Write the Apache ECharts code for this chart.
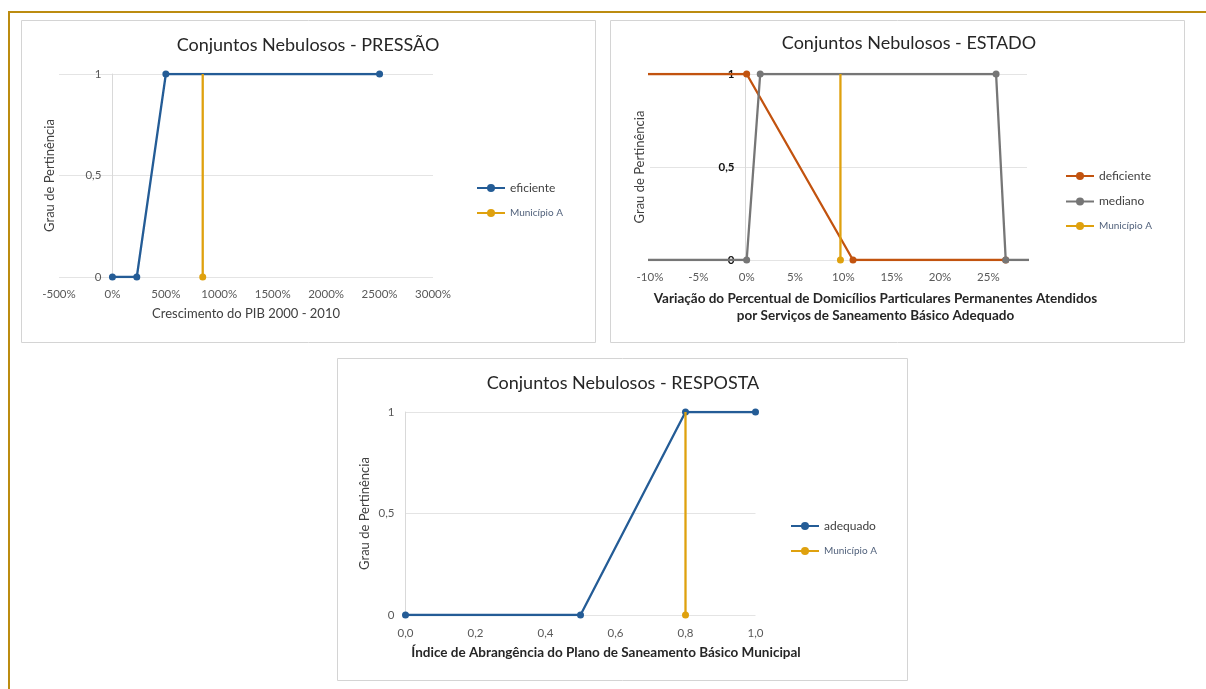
<!DOCTYPE html>
<html>
<head>
<meta charset="utf-8">
<script src="https://cdn.jsdelivr.net/npm/echarts@6/dist/echarts.min.js"></script>
<style>
  html, body { margin: 0; padding: 0; background: #ffffff; }
  #chart { width: 1206px; height: 689px; }
</style>
</head>
<body>
<div id="chart"></div>
<script>
// ---- PRESSÃO: crescimento do PIB 2000-2010 (%) ----
const pibX = [0, 228, 500, 2500];
const eficiente = [0, 0, 1, 1];
const pibMunicipioA = 845;

// ---- ESTADO: variação do percentual de domicílios atendidos (%) ----
const deficienteX = [-20, 0, 11, 26.8];
const deficiente = [1, 1, 0, 0];
const medianoX = [-20, 0, 1.4, 25.8, 26.8, 40];
const mediano = [0, 0, 1, 1, 0, 0];
const saneamentoMunicipioA = 9.7;

// ---- RESPOSTA: índice de abrangência do plano ----
const indiceX = [0, 0.5, 0.8, 1.0];
const adequado = [0, 0, 1, 1];
const indiceMunicipioA = 0.8;

// Município A is drawn as a vertical segment spanning these memberships
const municipioRange = [0, 1];

// tick labels
const yTicks = { min: 0, max: 1, interval: 0.5 };
const pibTicks = { min: -500, max: 3000, interval: 500 };
const estadoTicks = { min: -10, max: 29, interval: 5 };
const indiceTicks = { min: 0, max: 1, interval: 0.2 };

const BLUE = '#245C96';
const BROWN = '#C2530F';
const GREY = '#767676';
const GOLD = '#DFA10E';
const FONT = 'Lato, "Liberation Sans", sans-serif';

const zip = (xs, ys) => xs.map((x, i) => [x, ys[i]]);
const vertical = (x) => [
  [x, municipioRange[0]],
  { value: [x, municipioRange[1]], symbol: 'none' }
];
const comma = (v) => String(v).replace('.', ',');

const chart = echarts.init(document.getElementById('chart'), null, { renderer: 'canvas' });

// the vertical axis crosses the horizontal one at x = 0; "offset" shifts it
// from the left edge of the grid to that position
function yAxisFor(gridIndex, bold, offset, nameGap) {
  return {
    type: 'value', gridIndex, offset,
    min: yTicks.min, max: yTicks.max, interval: yTicks.interval,
    axisLine: { show: true, onZero: false, lineStyle: { color: '#D9D9D9', width: 1 } },
    axisTick: { show: false },
    splitLine: { show: true, lineStyle: { color: '#E4E4E4', width: 1 } },
    axisLabel: {
      margin: 11, fontSize: 11.5, fontFamily: FONT,
      color: bold ? '#111111' : '#595959', fontWeight: bold ? 'bold' : 'normal',
      formatter: comma
    },
    name: 'Grau de Pertinência', nameLocation: 'middle', nameGap,
    nameTextStyle: { fontSize: 13, color: '#404040', fontFamily: FONT }
  };
}

const lineSeries = (name, data, color, xi, z) => ({
  name, type: 'line', xAxisIndex: xi, yAxisIndex: xi, data,
  symbol: 'circle', symbolSize: 7, z,
  clip: true, animation: false,
  lineStyle: { color, width: 2.3 },
  itemStyle: { color }
});

const legendBase = {
  orient: 'vertical', itemWidth: 28, itemHeight: 10,
  textStyle: { fontSize: 12, color: '#404040', fontFamily: FONT }
};
const municipioLegend = { name: 'Município A', textStyle: { fontSize: 10, color: '#52627C' } };
const titleStyle = { fontSize: 18, fontWeight: 'normal', color: '#262626', fontFamily: FONT };

chart.setOption({
  animation: false,
  textStyle: { fontFamily: FONT },
  title: [
    { text: 'Conjuntos Nebulosos - PRESSÃO', left: 308, top: 36, textAlign: 'center', padding: 0, textStyle: titleStyle },
    { text: 'Conjuntos Nebulosos - ESTADO', left: 909, top: 34, textAlign: 'center', padding: 0, textStyle: titleStyle },
    { text: 'Conjuntos Nebulosos - RESPOSTA', left: 623, top: 374, textAlign: 'center', padding: 0, textStyle: titleStyle }
  ],
  graphic: [
    { type: 'polyline', silent: true, z: -1,
      shape: { points: [[9, 689], [9, 12], [1206, 12]] },
      style: { stroke: '#BC8C10', lineWidth: 2, fill: null } },
    { type: 'rect', silent: true, z: -1, shape: { x: 21.5, y: 20.5, width: 574, height: 322 },
      style: { stroke: '#D4D4D4', lineWidth: 1, fill: '#ffffff' } },
    { type: 'rect', silent: true, z: -1, shape: { x: 610.5, y: 20.5, width: 574, height: 322 },
      style: { stroke: '#D4D4D4', lineWidth: 1, fill: '#ffffff' } },
    { type: 'rect', silent: true, z: -1, shape: { x: 337.5, y: 358.5, width: 570, height: 322 },
      style: { stroke: '#D4D4D4', lineWidth: 1, fill: '#ffffff' } }
  ],
  grid: [
    { left: 59, top: 74, width: 374, height: 203, outerBoundsMode: 'none' },
    { left: 650, top: 74, width: 377, height: 186, outerBoundsMode: 'none' },
    { left: 405.5, top: 412, width: 350, height: 203, outerBoundsMode: 'none' }
  ],
  xAxis: [
    {
      type: 'value', gridIndex: 0,
      min: pibTicks.min, max: pibTicks.max, interval: pibTicks.interval,
      axisLine: { show: false }, axisTick: { show: false }, splitLine: { show: false },
      axisLabel: { margin: 11, fontSize: 11.5, color: '#595959', fontFamily: FONT, formatter: (v) => v + '%' },
      name: 'Crescimento do PIB 2000 - 2010', nameLocation: 'middle', nameGap: 30,
      nameTextStyle: { fontSize: 13, color: '#404040', fontFamily: FONT }
    },
    {
      type: 'value', gridIndex: 1,
      min: estadoTicks.min, max: estadoTicks.max, interval: estadoTicks.interval,
      axisLine: { show: false }, axisTick: { show: false }, splitLine: { show: false },
      axisLabel: { margin: 11, fontSize: 11.5, color: '#595959', fontFamily: FONT,
        formatter: (v) => (v % estadoTicks.interval === 0 ? v + '%' : '') },
      name: 'Variação do Percentual de Domicílios Particulares Permanentes Atendidos\npor Serviços de Saneamento Básico Adequado',
      nameLocation: 'middle', nameGap: 30,
      nameTextStyle: { fontSize: 13.5, fontWeight: 'bold', color: '#262626', fontFamily: FONT,
        lineHeight: 17, padding: [0, 0, 0, 74] }
    },
    {
      type: 'value', gridIndex: 2,
      min: indiceTicks.min, max: indiceTicks.max, interval: indiceTicks.interval,
      axisLine: { show: false }, axisTick: { show: false }, splitLine: { show: false },
      axisLabel: { margin: 12, fontSize: 11.5, color: '#595959', fontFamily: FONT,
        formatter: (v) => v.toFixed(1).replace('.', ',') },
      name: 'Índice de Abrangência do Plano de Saneamento Básico Municipal',
      nameLocation: 'middle', nameGap: 31,
      nameTextStyle: { fontSize: 13.5, fontWeight: 'bold', color: '#262626', fontFamily: FONT,
        padding: [0, 0, 0, 51] }
    }
  ],
  yAxis: [
    yAxisFor(0, false, -53.4, 56),
    yAxisFor(1, true, -95.5, 99),
    yAxisFor(2, false, 0, 34)
  ],
  legend: [
    Object.assign({}, legendBase, { left: 471, top: 177, itemGap: 14,
      data: ['eficiente', municipioLegend] }),
    Object.assign({}, legendBase, { left: 1060, top: 165, itemGap: 13.5,
      data: ['deficiente', 'mediano', municipioLegend] }),
    Object.assign({}, legendBase, { left: 785, top: 515, itemGap: 14,
      data: ['adequado', municipioLegend] })
  ],
  series: [
    lineSeries('eficiente', zip(pibX, eficiente), BLUE, 0, 2),
    lineSeries('Município A', vertical(pibMunicipioA), GOLD, 0, 3),

    lineSeries('deficiente', zip(deficienteX, deficiente), BROWN, 1, 2),
    lineSeries('mediano', zip(medianoX, mediano), GREY, 1, 3),
    lineSeries('Município A', vertical(saneamentoMunicipioA), GOLD, 1, 4),

    lineSeries('adequado', zip(indiceX, adequado), BLUE, 2, 2),
    lineSeries('Município A', vertical(indiceMunicipioA), GOLD, 2, 3)
  ]
});
</script>
</body>
</html>
